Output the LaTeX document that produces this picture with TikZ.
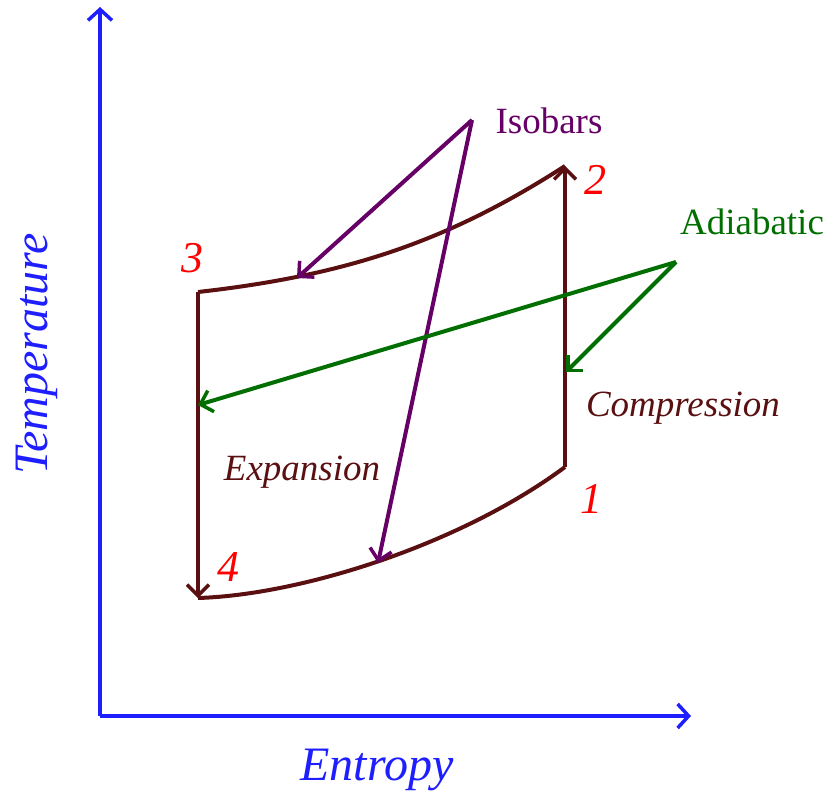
\documentclass[tikz,border=0pt]{standalone}
\usepackage{fontspec}
\setmainfont{Liberation Serif}
\usetikzlibrary{arrows.meta}
\definecolor{cyc}{RGB}{90,16,16}
\definecolor{isoc}{RGB}{102,0,102}
\definecolor{adc}{RGB}{0,110,0}
\definecolor{axc}{RGB}{30,30,255}
\definecolor{numc}{RGB}{255,0,0}
\tikzset{
  axis/.style={draw=axc, line width=4pt, -{Straight Barb[length=11pt,width=24pt,line width=3.5pt]}},
  cycle/.style={draw=cyc, line width=4pt},
  cyclearr/.style={cycle, -{Straight Barb[length=11pt,width=22pt,line width=3.5pt]}},
  isoarr/.style={draw=isoc, line width=4pt, -{Straight Barb[length=11pt,width=22pt,line width=3.5pt]}},
  adarr/.style={draw=adc, line width=4pt, -{Straight Barb[length=11pt,width=22pt,line width=3.5pt]}},
  numlab/.style={text=numc, font=\fontsize{44}{44}\selectfont\itshape, inner sep=0pt},
  proclab/.style={text=cyc, font=\fontsize{37}{37}\selectfont\itshape, inner sep=0pt},
  axlab/.style={text=axc, font=\fontsize{48}{48}\selectfont\itshape, inner sep=0pt},
}
\begin{document}
\begin{tikzpicture}[x=1pt,y=-1pt]
\useasboundingbox (0,0) rectangle (827,794);
% axes
\coordinate (O) at (100,716);
\coordinate (ytop) at (100,7);
\coordinate (xend) at (691,716);
\draw[axis] (O) -- (ytop);
\draw[axis] (O) -- (xend);
\node[axlab, rotate=90] (tlab) at (37,354) {Temperature};
\node[axlab] (elab) at (377,770) {Entropy};
% cycle points
\coordinate (p3) at (198,292);
\coordinate (p4) at (198,598);
\coordinate (p1) at (565,467);
\coordinate (p2) at (565,166);
\draw[cycle] (p3) .. controls (350,275) and (450,240) .. (p2);
\draw[cycle] (p4) .. controls (300,595) and (460,545) .. (p1);
\draw[cyclearr] (p3) -- (p4);
\draw[cyclearr] (p1) -- (p2);
% numbers
\node[numlab] (n3) at (192,258) {3};
\node[numlab] (n2) at (595,180) {2};
\node[numlab] (n1) at (591,499) {1};
\node[numlab] (n4) at (228,567) {4};
% process labels
\node[proclab] (exp) at (302,472) {Expansion};
\node[proclab] (comp) at (683,408) {Compression};
% isobars
\node[text=isoc, font=\fontsize{37}{37}\selectfont, inner sep=0pt] (iso) at (549,121) {Isobars};
\coordinate (isoS) at (472,120);
\coordinate (isoA) at (297,278);
\coordinate (isoB) at (378,563);
\draw[isoarr] (isoS) -- (isoA);
\draw[isoarr] (isoS) -- (isoB);
% adiabatic
\node[text=adc, font=\fontsize{37}{37}\selectfont, inner sep=0pt] (adi) at (752,222) {Adiabatic};
\coordinate (adS) at (676,262);
\coordinate (adA) at (198,405);
\coordinate (adB) at (566,372);
\draw[adarr] (adS) -- (adA);
\draw[adarr] (adS) -- (adB);
\end{tikzpicture}
\end{document}
